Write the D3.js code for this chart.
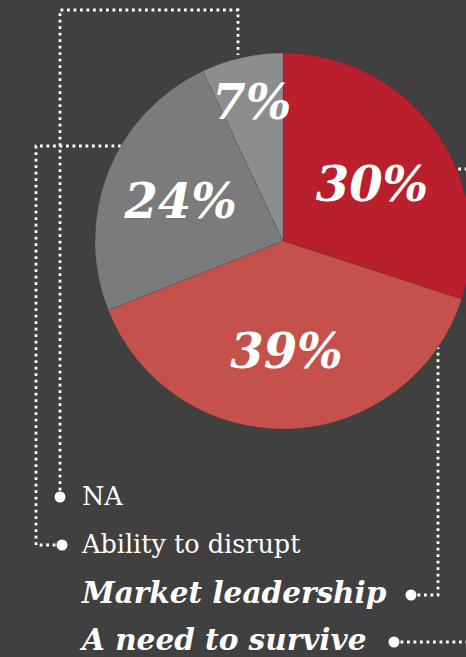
<!DOCTYPE html>
<html>
<head>
<meta charset="utf-8">
<script src="https://cdn.jsdelivr.net/npm/d3@7"></script>
<style>
  body { margin: 0; background: #404040; }
  svg { display: block; }
</style>
</head>
<body>
<div id="chart"></div>
<script>
// Data
const categories = ["A need to survive", "Market leadership", "Ability to disrupt", "NA"];
const values = [30, 39, 24, 7];
const sliceColors = ["#b91f2d", "#c5514c", "#7b7b7b", "#8d8d8d"];
const emphasis = [true, true, false, false]; // bold italic legend entries

const width = 466;
const height = 657;
const cx = 283;
const cy = 241;
const radius = 188;

const svg = d3.select("#chart").append("svg")
    .attr("width", width)
    .attr("height", height);

svg.append("rect")
    .attr("width", width)
    .attr("height", height)
    .attr("fill", "#404040");

const data = categories.map((c, i) => ({ name: c, value: values[i], color: sliceColors[i], strong: emphasis[i] }));

const pie = d3.pie().sort(null).value(d => d.value);
const arcs = pie(data);
const arc = d3.arc().innerRadius(0).outerRadius(radius);

// point on a circle, angle measured clockwise from 12 o'clock
const polar = (r, a) => [cx + r * Math.sin(a), cy - r * Math.cos(a)];

// Dotted leader lines (drawn first so the pie sits on top)
const legendX = 82;
const legendRows = [650, 603, 553, 505]; // baselines, same order as categories
const bulletX = [394, 411, 62, 60];

const leaders = svg.append("g").attr("class", "leaders")
    .attr("fill", "none")
    .attr("stroke", "#ffffff")
    .attr("stroke-width", 2.8)
    .attr("stroke-dasharray", "2.8 3.7");

const line = d3.line();
const by = i => legendRows[i] - 8;

// A need to survive -> 30% slice, routed off the right edge
leaders.append("path").attr("d", line([
    [bulletX[0], by(0)], [490, by(0)], [490, 169], [455, 169]
]));
// Market leadership -> 39% slice
leaders.append("path").attr("d", line([
    [bulletX[1], by(1)], [438, by(1)], [438, cy + Math.sqrt(radius * radius - (438 - cx) ** 2)]
]));
// Ability to disrupt -> 24% slice
leaders.append("path").attr("d", line([
    [bulletX[2], by(2)], [36, by(2)], [36, 146], [cx - Math.sqrt(radius * radius - (146 - cy) ** 2), 146]
]));
// NA -> 7% slice
leaders.append("path").attr("d", line([
    [bulletX[3], by(3)], [60, 10], [238, 10], [238, 55]
]));

// Pie
const g = svg.append("g").attr("transform", `translate(${cx},${cy})`);

g.selectAll("path.slice")
    .data(arcs)
    .join("path")
    .attr("class", "slice")
    .attr("d", arc)
    .attr("fill", d => d.data.color)
    .attr("stroke", "rgba(0,0,0,0.12)")
    .attr("stroke-width", 0.8);

// Percentage labels
const labelSize = 48;
const labelPos = d => {
    const mid = (d.startAngle + d.endAngle) / 2;
    // small slices get pushed out towards the rim
    return polar(d.data.value < 10 ? 143 : 110, mid);
};
svg.append("g").selectAll("text")
    .data(arcs)
    .join("text")
    .attr("x", d => labelPos(d)[0])
    .attr("y", d => labelPos(d)[1] + labelSize * 0.36 + (d.index === 0 ? 7 : 0))
    .attr("text-anchor", "middle")
    .style("font-family", "'DejaVu Serif', Georgia, serif")
    .style("font-weight", "bold")
    .style("font-style", "italic")
    .style("font-size", `${labelSize}px`)
    .style("fill", "#ffffff")
    .text(d => `${d.data.value}%`);

// Legend
const legend = svg.append("g").attr("class", "legend");

legend.selectAll("circle")
    .data(data)
    .join("circle")
    .attr("cx", (d, i) => bulletX[i])
    .attr("cy", (d, i) => by(i))
    .attr("r", 5.5)
    .attr("fill", "#ffffff");

legend.selectAll("text")
    .data(data)
    .join("text")
    .attr("x", legendX)
    .attr("y", (d, i) => legendRows[i])
    .style("font-family", "'DejaVu Serif', Georgia, serif")
    .style("font-weight", d => d.strong ? "bold" : "normal")
    .style("font-style", d => d.strong ? "italic" : "normal")
    .style("font-size", d => d.strong ? "29.5px" : "25.5px")
    .style("fill", "#ffffff")
    .text(d => d.name);
</script>
</body>
</html>
